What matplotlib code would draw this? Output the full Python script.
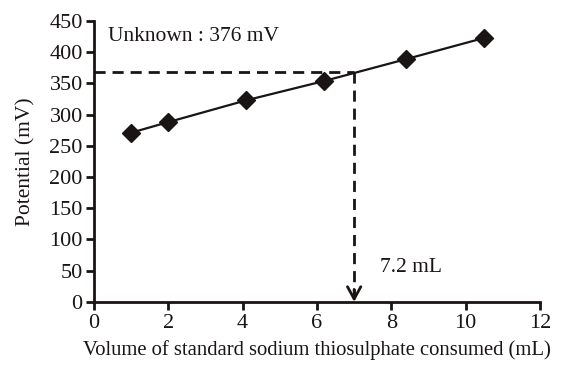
import matplotlib
matplotlib.use("Agg")
import matplotlib.pyplot as plt

volume = [1.0, 2.0, 4.1, 6.2, 8.4, 10.5]
potential = [271, 288, 323, 354, 389, 423]
unknown_potential = 369
unknown_volume = 7.0
x_ticks = [0, 2, 4, 6, 8, 10, 12]
y_ticks = [0, 50, 100, 150, 200, 250, 300, 350, 400, 450]

plt.rcParams['font.family'] = ['Liberation Serif', 'DejaVu Serif']

fig = plt.figure(figsize=(5.62, 3.69), dpi=100)
ax = fig.add_axes([0.167, 0.182, 0.794, 0.761])
col = '#1a1515'

ax.plot(volume, potential, color=col, lw=1.6, marker='D', ms=9, mfc=col, mec=col, zorder=3)
ax.plot([0, unknown_volume], [unknown_potential, unknown_potential], color=col, lw=2,
        dashes=(4, 2.5))
ax.plot([unknown_volume, unknown_volume], [unknown_potential, 6], color=col, lw=2,
        dashes=(4, 2.5))
ax.annotate('', xy=(unknown_volume, 0), xytext=(unknown_volume, 20),
            arrowprops=dict(arrowstyle='->,head_length=0.55,head_width=0.3', color=col, lw=2,
                            shrinkA=0, shrinkB=0, mutation_scale=16))

ax.text(0.38, 425, 'Unknown : 376 mV', fontsize=15.5, color=col, va='center', ha='left')
ax.text(7.7, 55, '7.2 mL', fontsize=15.5, color=col, va='center', ha='left')

ax.set_xlim(0, 12)
ax.set_ylim(0, 450)
ax.set_xticks(x_ticks)
ax.set_yticks(y_ticks)
for s in ['top', 'right']:
    ax.spines[s].set_visible(False)
for s in ['left', 'bottom']:
    ax.spines[s].set_linewidth(2)
    ax.spines[s].set_color(col)
ax.tick_params(axis='both', direction='out', length=6, width=2, colors=col, labelsize=16)
ax.tick_params(axis='y', pad=2)
ax.tick_params(axis='x', pad=3)
ax.set_xlabel('Volume of standard sodium thiosulphate consumed (mL)', fontsize=14.9, color=col, labelpad=5)
ax.set_ylabel('Potential (mV)', fontsize=15.5, color=col, labelpad=10)

fig.savefig('out.png', dpi=100)
